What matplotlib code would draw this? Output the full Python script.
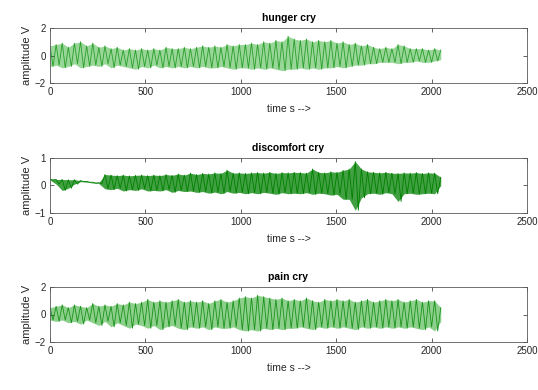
import numpy as np
import matplotlib
matplotlib.use("Agg")
import matplotlib.pyplot as plt

plt.rcParams['font.family'] = ['Liberation Sans', 'DejaVu Sans']

titles = ["hunger cry", "discomfort cry", "pain cry"]
xlabel_text = "time s -->"
ylabel_text = "amplitude V"
x_ticks = [0, 500, 1000, 1500, 2000, 2500]
y_ticks = [[-2, 0, 2], [-1, 0, 1], [-2, 0, 2]]
y_limits = [(-2, 2), (-1, 1), (-2, 2)]
window = 32  # time units per envelope reading

# upper / lower peaks of each waveform, every 32 time units
hunger_upper = [
    0.7, 0.8, 0.9, 0.6, 0.9, 1.0, 0.7, 0.9,
    0.6, 0.7, 0.5, 0.6, 0.4, 0.5, 0.4, 0.5,
    0.4, 0.5, 0.4, 0.6, 0.5, 0.5, 0.6, 0.5,
    0.6, 0.7, 0.6, 0.7, 0.6, 0.8, 0.7, 0.8,
    0.8, 0.9, 0.8, 1.0, 0.9, 1.1, 1.0, 1.4,
    1.2, 1.1, 1.2, 1.0, 1.1, 1.0, 1.1, 0.9,
    1.0, 0.8, 0.9, 0.7, 0.8, 0.6, 0.5, 0.6,
    0.5, 0.8, 0.7, 0.5, 0.5, 0.5, 0.4, 0.5,
    0.4,
]
hunger_lower = [
    -0.8, -0.7, -0.9, -0.8, -0.6, -0.9, -0.8, -0.7,
    -0.8, -0.6, -0.9, -0.7, -0.8, -0.9, -1.0, -0.8,
    -0.9, -0.7, -0.9, -0.8, -0.9, -0.8, -0.9, -0.8,
    -0.9, -0.8, -0.9, -0.9, -0.8, -0.9, -1.0, -0.9,
    -0.9, -1.0, -0.9, -1.0, -0.9, -1.0, -1.1, -1.0,
    -1.0, -0.9, -1.0, -0.9, -1.0, -0.9, -0.9, -0.8,
    -0.9, -0.8, -0.7, -0.7, -0.6, -0.6, -0.5, -0.5,
    -0.5, -0.6, -0.5, -0.5, -0.4, -0.5, -0.5, -0.4,
    -0.3,
]

discomfort_upper = [
    0.23, 0.22, 0.22, 0.21, 0.21, 0.18, 0.15, 0.12,
    0.10, 0.40, 0.38, 0.36, 0.38, 0.35, 0.37, 0.38,
    0.36, 0.38, 0.36, 0.40, 0.37, 0.42, 0.38, 0.45,
    0.40, 0.44, 0.42, 0.46, 0.44, 0.56, 0.45, 0.46,
    0.44, 0.46, 0.47, 0.45, 0.48, 0.44, 0.47, 0.46,
    0.48, 0.47, 0.45, 0.60, 0.48, 0.46, 0.50, 0.48,
    0.55, 0.60, 0.87, 0.60, 0.50, 0.48, 0.46, 0.48,
    0.45, 0.44, 0.46, 0.45, 0.47, 0.44, 0.46, 0.45,
    0.30,
]
discomfort_lower = [
    0.20, 0.05, -0.18, -0.10, 0.05, 0.14, 0.12, 0.09,
    0.07, -0.12, -0.15, -0.10, -0.20, -0.15, -0.18, -0.12,
    -0.20, -0.18, -0.20, -0.15, -0.25, -0.18, -0.22, -0.20,
    -0.25, -0.22, -0.28, -0.24, -0.30, -0.22, -0.28, -0.25,
    -0.30, -0.26, -0.30, -0.25, -0.28, -0.32, -0.26, -0.30,
    -0.28, -0.30, -0.26, -0.32, -0.28, -0.30, -0.35, -0.32,
    -0.50, -0.50, -0.90, -0.45, -0.30, -0.28, -0.32, -0.26,
    -0.30, -0.58, -0.30, -0.28, -0.32, -0.30, -0.28, -0.30,
    0.00,
]

pain_upper = [
    0.5, 0.6, 0.7, 0.5, 0.7, 0.6, 0.5, 0.8,
    0.6, 0.7, 0.6, 0.8, 0.7, 0.9, 0.8, 0.9,
    1.1, 0.9, 1.0, 0.9, 1.0, 1.1, 0.9, 1.0,
    0.9, 1.0, 0.8, 1.0, 1.1, 0.9, 1.0, 1.2,
    1.3, 1.2, 1.4, 1.3, 1.2, 1.1, 1.2, 1.0,
    1.1, 1.0, 1.2, 1.0, 0.9, 1.1, 1.0, 1.1,
    1.0, 1.1, 0.9, 1.0, 1.1, 0.9, 1.0, 1.1,
    1.0, 1.1, 0.9, 1.0, 1.1, 0.9, 1.0, 1.0,
    0.5,
]
pain_lower = [
    -0.4, -0.5, -0.4, -0.6, -0.5, -0.7, -0.4, -0.6,
    -0.8, -0.5, -0.9, -0.6, -0.8, -1.0, -0.7, -0.8,
    -1.0, -0.8, -1.1, -0.9, -0.8, -1.0, -1.1, -0.9,
    -1.0, -0.9, -1.1, -0.9, -1.0, -1.0, -0.9, -1.1,
    -1.2, -1.1, -1.2, -1.0, -1.1, -1.0, -1.1, -1.0,
    -1.0, -0.9, -1.0, -1.1, -0.9, -1.0, -0.9, -1.0,
    -0.9, -1.0, -1.1, -0.9, -1.0, -0.9, -1.0, -0.9,
    -1.0, -0.9, -1.0, -0.9, -1.0, -1.1, -0.9, -1.2,
    -0.5,
]

uppers = [hunger_upper, discomfort_upper, pain_upper]
lowers = [hunger_lower, discomfort_lower, pain_lower]
band_colors = ["#86d086", "#1f8f1f", "#78c878"]
band_alpha = [0.85, 0.85, 0.85]
line_colors = ["#2b9e2b", "#008000", "#1b921b"]

W, H = 538, 390
fig = plt.figure(figsize=(W / 100, H / 100), dpi=100)

left = 50 / W
width = (527 - 50) / W
tops = [28, 158, 287]
ax_h = 55

text_col = "#262626"
for i, title in enumerate(titles):
    up = np.array(uppers[i])
    lo = np.array(lowers[i])
    t = np.arange(len(up)) * window
    bottom = 1 - (tops[i] + ax_h) / H
    ax = fig.add_axes([left, bottom, width, ax_h / H])
    ax.fill_between(t, lo, up, color=band_colors[i], alpha=band_alpha[i], lw=0)
    xs = np.column_stack([t, t + window / 2]).ravel()[:-1]
    ys = np.column_stack([up, lo]).ravel()[:-1]
    ax.plot(xs, ys, color=line_colors[i], lw=0.6)
    ax.set_xlim(0, 2500)
    ax.set_ylim(*y_limits[i])
    ax.set_xticks(x_ticks)
    ax.set_yticks(y_ticks[i])
    ax.tick_params(direction="in", length=3, width=0.5, top=True, right=True,
                   labelsize=7, colors=text_col, pad=3)
    for s in ax.spines.values():
        s.set_linewidth(0.6)
        s.set_color("#5a5a5a")
    ax.set_title(title, fontsize=7.5, fontweight="bold", color="black", pad=5)
    ax.set_xlabel(xlabel_text, fontsize=7.5, color=text_col, labelpad=5)
    ax.set_ylabel(ylabel_text, fontsize=8, color=text_col, labelpad=2)

fig.savefig("out.png", dpi=100)
